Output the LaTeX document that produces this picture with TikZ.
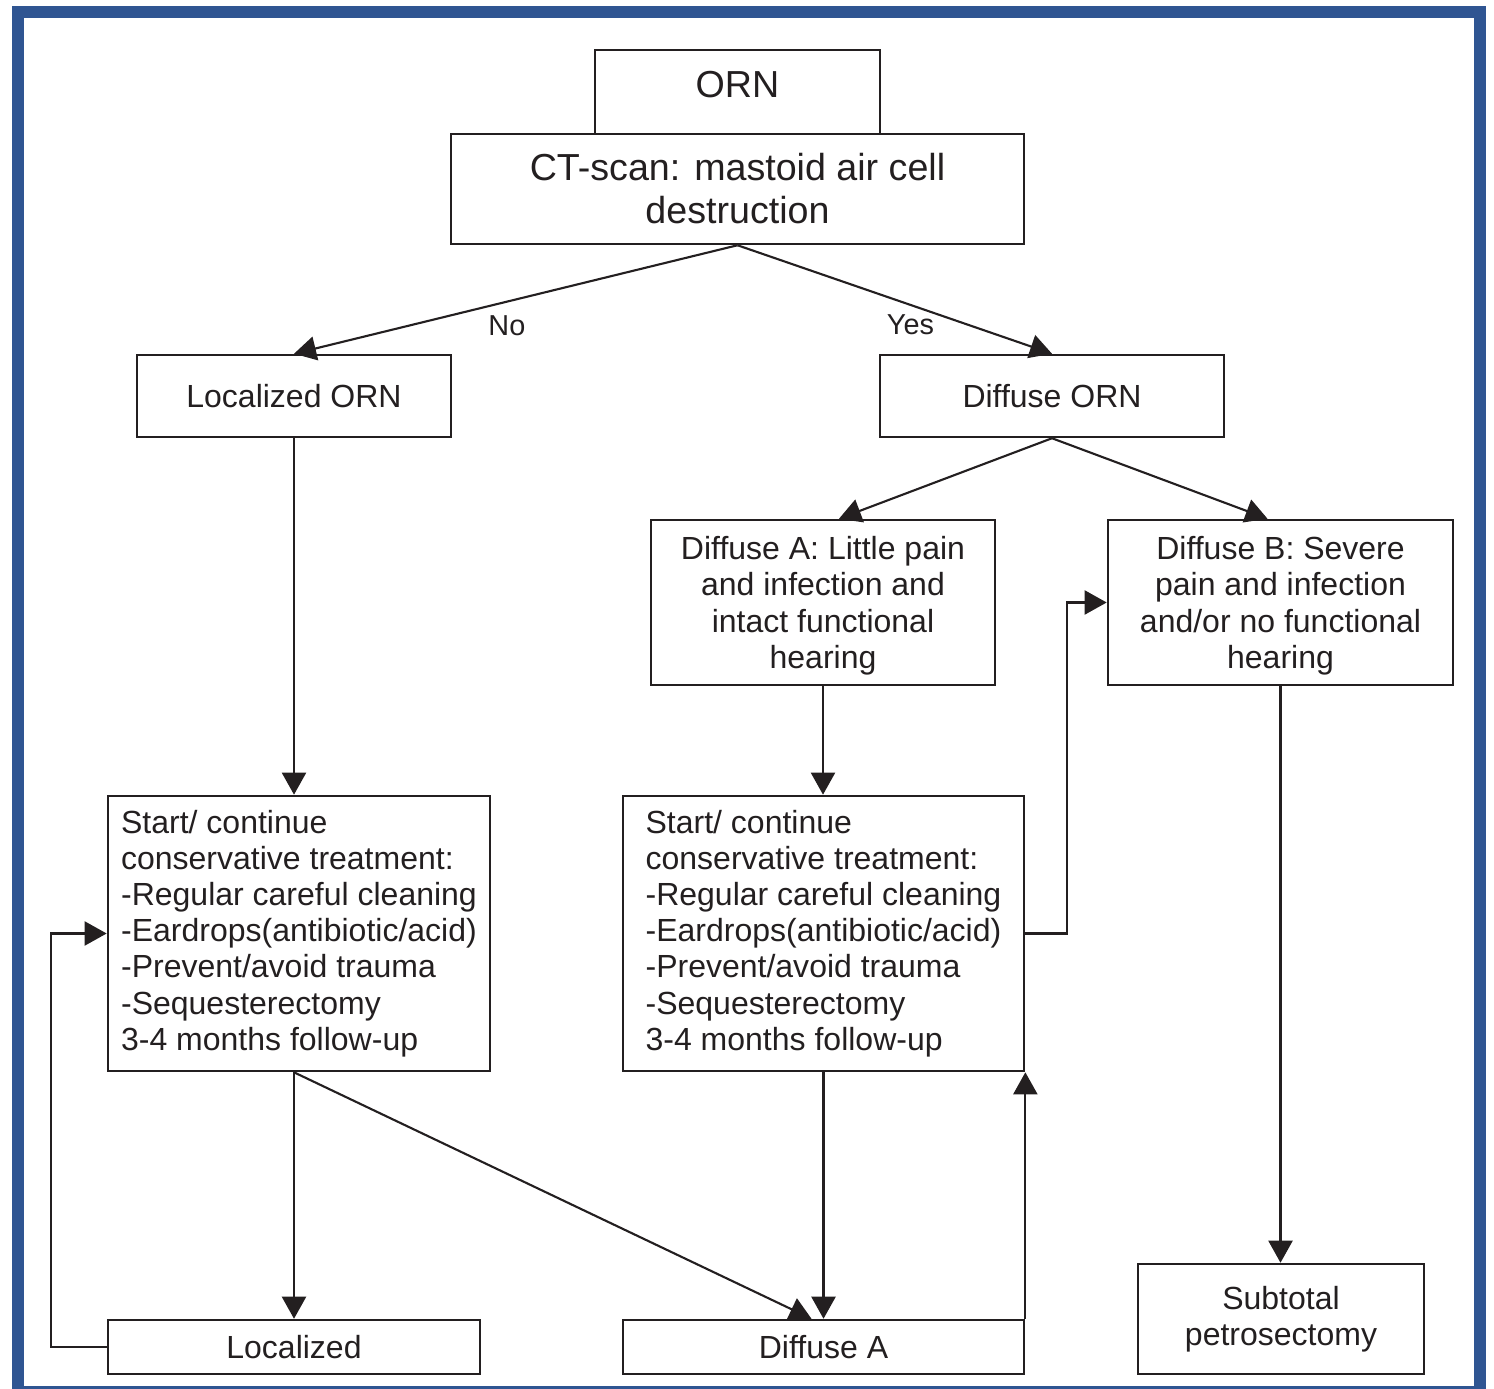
\documentclass[tikz,border=0pt]{standalone}
\usepackage{fontspec}
\setmainfont{Liberation Sans}
\usetikzlibrary{arrows.meta}
\usetikzlibrary{positioning}
\usetikzlibrary{calc}
\definecolor{frameblue}{HTML}{2F5592}
\definecolor{ink}{HTML}{231F20}
\tikzset{>=stealth}

\begin{document}
\begin{tikzpicture}[x=0.01cm, y=-0.01cm,
		box/.style={draw=ink, rectangle, line width=0.7pt, text=ink,
			inner sep=0pt, align=center, font=\fontsize{9.1}{10.3}\selectfont},
		bigbox/.style={box, font=\fontsize{10.7}{12.2}\selectfont},
		listbox/.style={box, align=left},
		line/.style={draw=ink, line width=0.6pt,
			-{Triangle[length=0.22cm, width=0.24cm]}},
		branch/.style={text=ink, font=\fontsize{8.2}{10}\selectfont}]
		\useasboundingbox (0,0) rectangle (1494,1389);
		\draw [frameblue, line width=0.12cm] (18,12) rectangle (1480,1392);
		\node [bigbox, minimum width=2.85cm, minimum height=0.84cm,
			text height=8pt, text depth=4.9pt] (orn) at (737.5,92) {ORN};
		\node [bigbox, minimum width=5.73cm, minimum height=1.1cm] (ct) at (737.5,189)
			{CT-scan: mastoid air cell\\destruction};
		\node [box, minimum width=3.14cm, minimum height=0.82cm] (locorn) at (294,396) {Localized ORN};
		\node [box, minimum width=3.44cm, minimum height=0.82cm] (difforn) at (1052,396) {Diffuse ORN};
		\node [box, minimum width=3.44cm, minimum height=1.65cm, text depth=0pt] (diffa) at (823,602.5)
			{Diffuse A: Little pain\\and infection and\\intact functional\\hearing};
		\node [box, minimum width=3.45cm, minimum height=1.65cm, text depth=0pt] (diffb) at (1280.5,602.5)
			{Diffuse B: Severe\\pain and infection\\and/or no functional\\hearing};
		\node [listbox, minimum width=3.82cm, minimum height=2.75cm] (treatl) at (299,933.5)
			{Start/ continue\\conservative treatment:\\-Regular careful cleaning\\-Eardrops(antibiotic/acid)\\-Prevent/avoid trauma\\-Sequesterectomy\\3-4 months follow-up};
		\node [listbox, minimum width=4.01cm, minimum height=2.75cm] (treatm) at (823.5,933.5)
			{Start/ continue\\conservative treatment:\\-Regular careful cleaning\\-Eardrops(antibiotic/acid)\\-Prevent/avoid trauma\\-Sequesterectomy\\3-4 months follow-up};
		\node [box, minimum width=3.72cm, minimum height=0.54cm] (locl) at (294,1347) {Localized};
		\node [box, minimum width=4.01cm, minimum height=0.54cm] (diffab) at (823.5,1347) {Diffuse A};
		\node [box, minimum width=2.86cm, minimum height=1.1cm] (subt) at (1281,1319) {Subtotal\\petrosectomy};
		%% Links
		\path [line] (ct.south) -- node [branch, pos=0.52, yshift=-0.24cm] {No} (locorn.north);
		\path [line] (ct.south) -- node [branch, pos=0.55, yshift=-0.2cm] {Yes} (difforn.north);
		\path [line] (locorn.south) -- (locorn.south |- treatl.north);
		\path [line] (difforn.south) -- ([xshift=0.16cm]diffa.north);
		\path [line] (difforn.south) -- ([xshift=-0.13cm]diffb.north);
		\path [line] (diffa.south) -- (diffa.south |- treatm.north);
		\path [line] (diffb.south) -- (diffb.south |- subt.north);
		\path [line] (locl.north |- treatl.south) -- (locl.north);
		\path [line] (locl.north |- treatl.south) -- ([xshift=-0.12cm]diffab.north);
		\path [line] (treatm.south) -- (diffab.north);
		\path [line] (diffab.north east) -- (treatm.south east);
		\path [line] (treatm.east) -- ++(42,0) |- (diffb.west);
		\path [line] (locl.west) -- ++(-56,0) |- (treatl.west);
\end{tikzpicture}
\end{document}
